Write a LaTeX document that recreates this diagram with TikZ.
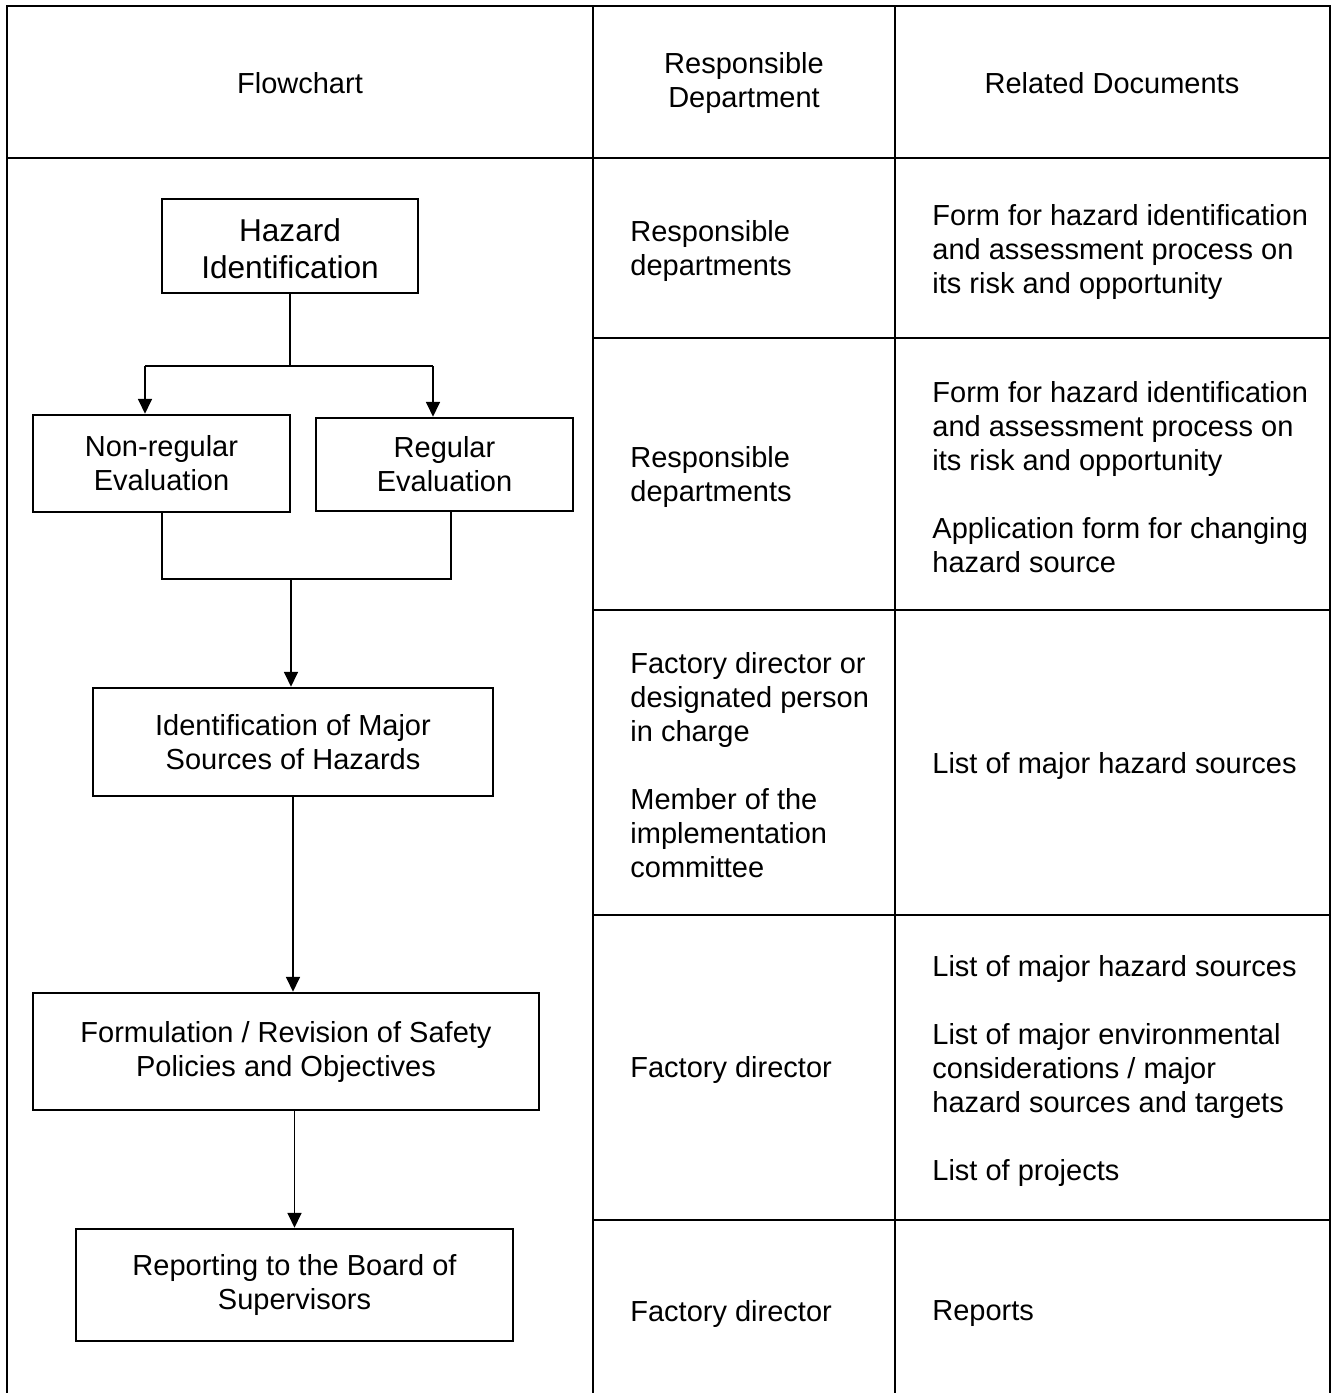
\documentclass[tikz,border=0pt]{standalone}
\usepackage{fontspec}
\setmainfont{Liberation Sans}
\usetikzlibrary{arrows.meta}
\begin{document}
\begin{tikzpicture}[x=0.5pt,y=-0.5pt,
  grid/.style={line width=1.35pt},
  box/.style={draw,line width=1.25pt,inner sep=0pt,align=center,
    font=\fontsize{14.5}{17}\selectfont},
  bigtext/.style={inner sep=0pt,align=center,font=\fontsize{15.8}{18.5}\selectfont},
  link/.style={line width=0.9pt},
  arr/.style={link,-{Triangle[length=7.5pt,width=7pt]}},
  cell/.style={anchor=west,inner sep=0pt,align=left,
    font=\fontsize{14.5}{17}\selectfont},
  head/.style={inner sep=0pt,align=center,font=\fontsize{14.5}{17}\selectfont}]
\useasboundingbox (0,0) rectangle (1332,1393);

% table frame
\draw[grid] (7,1400) -- (7,6) -- (1330,6) -- (1330,1400);
\draw[grid] (7,158) -- (1330,158);
\draw[grid] (593,6) -- (593,1400);
\draw[grid] (895,6) -- (895,1400);
\foreach \yy in {338,610,915,1220}
  \draw[grid] (593,\yy) -- (1330,\yy);

% header row
\node[head] (h1) at (300,83) {Flowchart};
\node[head] (h2) at (744,83) {Responsible\\Department};
\node[head] (h3) at (1112,83) {Related Documents};

% flowchart
\node[box,minimum width=128pt,minimum height=47pt,
  label={[bigtext,yshift=-1.3pt]center:{Hazard\\Identification}}] (haz) at (290,246) {};
\node[box,minimum width=128.5pt,minimum height=48.5pt] (nonreg) at (161.5,463.5) {Non-regular\\Evaluation};
\node[box,minimum width=128.5pt,minimum height=46.5pt] (reg) at (444.5,464.5) {Regular\\Evaluation};
\node[box,minimum width=200pt,minimum height=54pt] (major) at (293,742) {Identification of Major\\Sources of Hazards};
\node[box,minimum width=253pt,minimum height=58.5pt] (form) at (286,1051.5) {Formulation / Revision of Safety\\Policies and Objectives};
\node[box,minimum width=218.5pt,minimum height=56pt] (report) at (294.5,1285) {Reporting to the Board of\\Supervisors};

% branching after hazard identification
\coordinate (split) at (290,366);
\coordinate (splitL) at (145,366);
\coordinate (splitR) at (433,366);
\draw[link] (haz.south) -- (split);
\draw[link] (splitL) -- (splitR);
\draw[arr] (splitL) -- (splitL |- nonreg.north);
\draw[arr] (splitR) -- (splitR |- reg.north);

% merging of both evaluations
\coordinate (joinL) at (162,579);
\coordinate (joinR) at (451,579);
\coordinate (joinM) at (291,579);
\draw[link] (joinL |- nonreg.south) -- (joinL) -- (joinR) -- (joinR |- reg.south);
\draw[arr] (joinM) -- (joinM |- major.north);

\draw[arr] (major.south) -- (major.south |- form.north);
\draw[arr] (report.north |- form.south) -- (report.north);

% responsible department column
\node[cell] (d1) at (630,251) {Responsible\\departments};
\node[cell] (d2) at (630,477) {Responsible\\departments};
\node[cell] (d3) at (630,765.5) {Factory director or\\designated person\\in charge\\[17pt]Member of the\\implementation\\committee};
\node[cell] (d4) at (630,1070) {Factory director};
\node[cell] (d5) at (630,1314) {Factory director};

% related documents column
\node[cell] (r1) at (932,252) {Form for hazard identification\\and assessment process on\\its risk and opportunity};
\node[cell] (r2) at (932,477) {Form for hazard identification\\and assessment process on\\its risk and opportunity\\[17pt]Application form for changing\\hazard source};
\node[cell] (r3) at (932,766) {List of major hazard sources};
\node[cell] (r4) at (932,1070.5) {List of major hazard sources\\[17pt]List of major environmental\\considerations / major\\hazard sources and targets\\[17pt]List of projects};
\node[cell] (r5) at (932,1314) {Reports};
\end{tikzpicture}
\end{document}
